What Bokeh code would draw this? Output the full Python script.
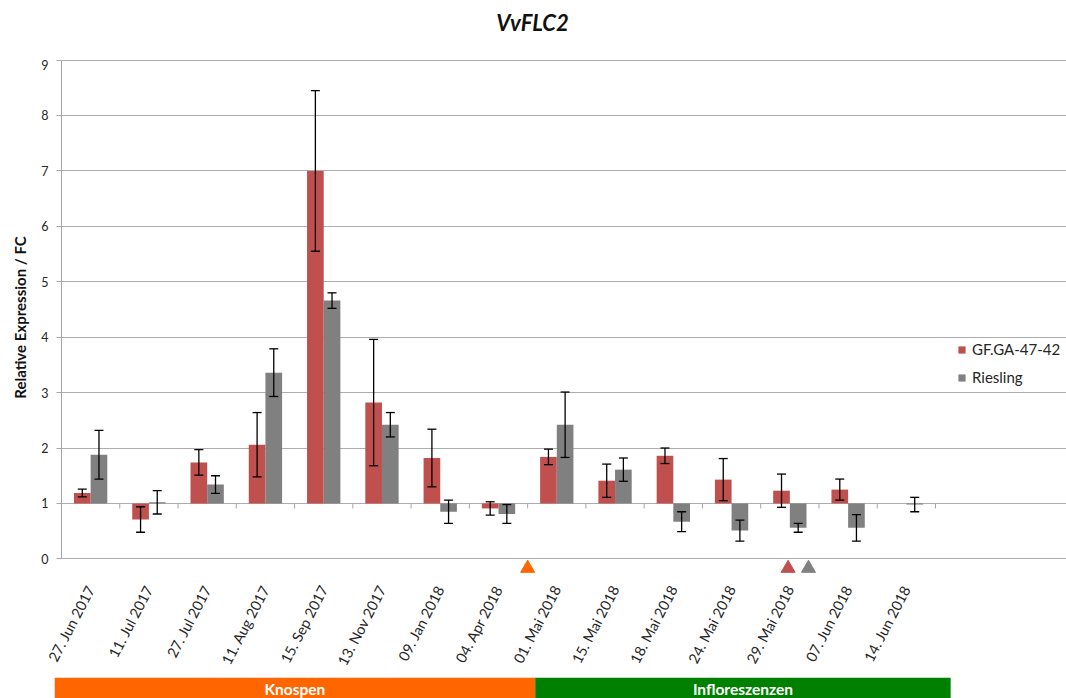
from bokeh.plotting import figure
from bokeh.models import (Range1d, FixedTicker, Whisker, TeeHead, ColumnDataSource,
                          Legend, LegendItem)
from bokeh.embed import file_html
from bokeh.resources import INLINE
from bokeh.core.properties import value

# ---------------- data ----------------
title_text = "VvFLC2"
dates = ["27. Jun 2017", "11. Jul 2017", "27. Jul 2017", "11. Aug 2017", "15. Sep 2017",
         "13. Nov 2017", "09. Jan 2018", "04. Apr 2018", "01. Mai 2018", "15. Mai 2018",
         "18. Mai 2018", "24. Mai 2018", "29. Mai 2018", "07. Jun 2018", "14. Jun 2018"]
gf_vals = [1.19, 0.71, 1.74, 2.06, 7.00, 2.82, 1.82, 0.91, 1.84, 1.41, 1.86, 1.43, 1.23, 1.25, None]
gf_err = [0.07, 0.23, 0.23, 0.58, 1.45, 1.14, 0.52, 0.12, 0.14, 0.30, 0.14, 0.38, 0.30, 0.19, None]
ri_vals = [1.88, 1.02, 1.34, 3.36, 4.66, 2.42, 0.85, 0.81, 2.42, 1.61, 0.67, 0.51, 0.56, 0.56, 0.98]
ri_err = [0.44, 0.21, 0.16, 0.43, 0.14, 0.22, 0.21, 0.17, 0.59, 0.21, 0.18, 0.19, 0.08, 0.24, 0.13]
series_names = ["GF.GA-47-42", "Riesling"]
series_colors = ["#C0504D", "#808080"]

# marker triangles below the axis (category position, colour)
tri_x = [7.5, 11.97, 12.32]
tri_colors = ["#FF6600", "#C0504D", "#808080"]

# phase bands (category units)
band_names = ["Knospen", "Infloreszenzen"]
band_start = [-0.62, 7.63]
band_end = [7.63, 14.76]
band_colors = ["#FF6600", "#008000"]

FONT = "Lato"
TXT = "#262626"
GRID = "#ADADAD"
AXC = "#A6A6A6"
BASE = 1.0

n = len(dates)
xs = list(range(n))
OFF = 0.143
BW = 0.286
W = 1066
X_END = 16.748

# ---------------- title strip ----------------
t = figure(width=W, height=59, x_range=Range1d(0, 1), y_range=Range1d(0, 1),
           output_backend="svg", toolbar_location=None, x_axis_type=None, y_axis_type=None,
           min_border_left=0, min_border_right=0, min_border_top=0, min_border_bottom=0)
t.outline_line_color = None
t.grid.visible = False
t.text(x=[0.499], y=[0.62], text=[title_text], text_font=value(FONT), text_font_size="22px",
       text_font_style="bold italic", text_color="#111111",
       text_align="center", text_baseline="middle")

# ---------------- main chart ----------------
p = figure(width=W, height=618, x_range=Range1d(-0.5, X_END), y_range=Range1d(-0.3, 9.01),
           output_backend="svg", toolbar_location=None,
           min_border_left=61, min_border_right=0, min_border_top=0, min_border_bottom=102)
p.outline_line_color = None
p.xgrid.visible = False
p.ygrid.grid_line_color = GRID
p.ygrid.grid_line_width = 1
p.ygrid.ticker = FixedTicker(ticks=list(range(0, 10)))
p.ygrid.bounds = (-0.5, n - 0.5)

# y axis
p.yaxis.ticker = FixedTicker(ticks=list(range(0, 10)))
p.yaxis.bounds = (0, 9)
p.yaxis.axis_line_color = AXC
p.yaxis.major_tick_line_color = AXC
p.yaxis.major_tick_out = 5
p.yaxis.major_tick_in = 0
p.yaxis.minor_tick_line_color = None
p.yaxis.major_label_text_font = FONT
p.yaxis.major_label_text_font_size = "12.5px"
p.yaxis.major_label_text_color = TXT
p.yaxis.major_label_standoff = 8
p.yaxis.axis_label = "Relative Expression / FC"
p.yaxis.axis_label_text_font = FONT
p.yaxis.axis_label_text_font_size = "15px"
p.yaxis.axis_label_text_font_style = "bold"
p.yaxis.axis_label_text_color = "#111111"
p.yaxis.axis_label_standoff = 9

# x axis (labels only)
p.xaxis.ticker = FixedTicker(ticks=xs)
p.xaxis.major_label_overrides = {i: d for i, d in zip(xs, dates)}
p.xaxis.major_label_orientation = 1.09
p.xaxis.axis_line_color = None
p.xaxis.major_tick_line_color = None
p.xaxis.minor_tick_line_color = None
p.xaxis.major_label_text_font = FONT
p.xaxis.major_label_text_font_size = "14.5px"
p.xaxis.major_label_text_color = TXT
p.xaxis.major_label_standoff = 5

# bars from baseline 1
def clean(v):
    return float("nan") if v is None else v

src_gf = ColumnDataSource(dict(x=[x - OFF for x in xs], top=[clean(v) for v in gf_vals]))
src_ri = ColumnDataSource(dict(x=[x + OFF for x in xs], top=[clean(v) for v in ri_vals]))
r1 = p.vbar(x="x", top="top", bottom=BASE, width=BW, source=src_gf,
            fill_color=series_colors[0], line_color=None)
r2 = p.vbar(x="x", top="top", bottom=BASE, width=BW, source=src_ri,
            fill_color=series_colors[1], line_color=None)

# baseline tick marks at category boundaries
bounds = [k - 0.5 for k in range(n + 1)]
p.segment(x0=bounds, y0=[BASE] * len(bounds), x1=bounds, y1=[BASE - 0.09] * len(bounds),
          line_color=AXC, line_width=1)

# error bars
def whisk(offset, vals, errs):
    xx, up, lo = [], [], []
    for x, v, e in zip(xs, vals, errs):
        if v is None:
            continue
        xx.append(x + offset)
        up.append(v + e)
        lo.append(v - e)
    s = ColumnDataSource(dict(x=xx, upper=up, lower=lo))
    w = Whisker(source=s, base="x", upper="upper", lower="lower", dimension="height",
                line_color="black", line_width=1.3, level="overlay",
                upper_head=TeeHead(size=9, line_color="black", line_width=1.3),
                lower_head=TeeHead(size=9, line_color="black", line_width=1.3))
    p.add_layout(w)

whisk(-OFF, gf_vals, gf_err)
whisk(OFF, ri_vals, ri_err)

# triangles
p.scatter(x=tri_x, y=[-0.17] * len(tri_x), marker="triangle", size=14,
          fill_color=tri_colors, line_color=tri_colors)

# legend (inside the wide frame, right of the bars)
legend = Legend(items=[LegendItem(label=series_names[0], renderers=[r1]),
                       LegendItem(label=series_names[1], renderers=[r2])],
                location=(896, 189), orientation="vertical", border_line_color=None,
                background_fill_alpha=0, padding=0, margin=0, spacing=10,
                label_height=16, glyph_height=9, glyph_width=9, label_standoff=6,
                label_text_font=FONT, label_text_font_size="15px", label_text_color=TXT)
p.add_layout(legend)

# ---------------- phase bands ----------------
b = figure(width=W, height=21, x_range=Range1d(band_start[0], X_END), y_range=Range1d(0, 1),
           output_backend="svg", toolbar_location=None, x_axis_type=None, y_axis_type=None,
           min_border_left=54, min_border_right=0, min_border_top=0, min_border_bottom=0)
b.outline_line_color = None
b.grid.visible = False
b.quad(left=band_start, right=band_end, bottom=[0] * 2, top=[1] * 2,
       fill_color=band_colors, line_color=None)
b.text(x=[(s + e) / 2 for s, e in zip(band_start, band_end)], y=[0.46] * 2, text=band_names,
       text_font=value(FONT), text_font_size="15.5px", text_font_style="bold",
       text_color="white", text_align="center", text_baseline="middle")

open("out.html", "w").write(file_html([t, p, b], INLINE))
